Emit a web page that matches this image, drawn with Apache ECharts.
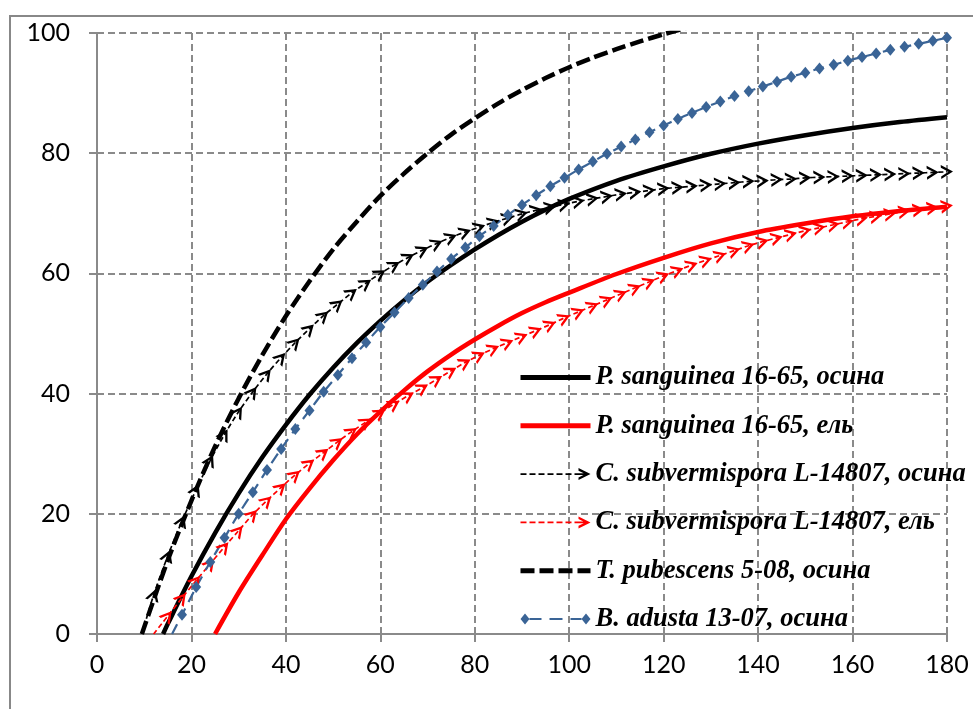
<!DOCTYPE html>
<html>
<head>
<meta charset="utf-8">
<script src="https://cdn.jsdelivr.net/npm/echarts@6.0.0/dist/echarts.min.js"></script>
<style>
  html, body { margin: 0; padding: 0; background: #fff; overflow: hidden; }
  #wrap { position: relative; width: 973px; height: 709px; overflow: hidden; }
  #frame { position: absolute; left: 9px; top: 15px; width: 2000px; height: 2000px;
           border-left: 2px solid #888888; border-top: 2px solid #888888; }
  #chart { position: absolute; left: 0; top: 0; width: 973px; height: 709px; }
</style>
</head>
<body>
<div id="wrap">
  <div id="frame"></div>
  <div id="chart"></div>
</div>
<script>
// x ticks and y ticks of the chart
var xTicks = [0, 20, 40, 60, 80, 100, 120, 140, 160, 180];
var yTicks = [0, 20, 40, 60, 80, 100];

// series names (legend order)
var names = [
  "P. sanguinea 16-65, осина",
  "P. sanguinea 16-65, ель",
  "C. subvermispora L-14807, осина",
  "C. subvermispora L-14807, ель",
  "T. pubescens 5-08, осина",
  "B. adusta 13-07, осина"
];

// values, [x, y]
var sangOsina = [[14, 0], [15, 1.7], [20, 9.6], [25, 16.8], [30, 23.4], [35, 29.4], [40, 34.8], [45, 39.8],
  [50, 44.3], [55, 48.4], [60, 52.1], [65, 55.5], [70, 58.6], [75, 61.4], [80, 64.0], [85, 66.4], [90, 68.6],
  [95, 70.6], [100, 72.4], [110, 75.4], [120, 77.8], [130, 79.9], [140, 81.6], [150, 83.0], [160, 84.2],
  [170, 85.2], [180, 86.0]];

var sangEl = [[25, 0], [30, 6.9], [35, 13.1], [40, 19.1], [45, 24.2], [50, 28.9], [55, 33.2], [60, 37.0],
  [65, 40.5], [70, 43.7], [75, 46.5], [80, 49.0], [85, 51.3], [90, 53.4], [95, 55.2], [100, 56.8], [110, 59.9],
  [120, 62.6], [130, 65.0], [140, 66.9], [150, 68.3], [160, 69.5], [170, 70.4], [180, 71.1]];

var subOsina = [[9.5, 0], [12, 6.5], [15, 13.0], [18, 18.8], [21, 24.0], [24, 28.9], [27, 33.2], [30, 37.0],
  [33, 40.3], [36, 43.3], [39, 46.0], [42, 48.5], [45, 50.8], [48, 53.0], [51, 54.9], [54, 56.8], [57, 58.4],
  [60, 60.0], [63, 61.4], [66, 62.7], [69, 63.9], [72, 65.0], [75, 66.0], [78, 66.9], [81, 67.7], [84, 68.5],
  [87, 69.2], [90, 69.9], [93, 70.5], [96, 71.0], [99, 71.5], [102, 72.0], [105, 72.4], [108, 72.8], [111, 73.2],
  [114, 73.5], [117, 73.8], [120, 74.1], [123, 74.3], [126, 74.5], [129, 74.7], [132, 74.9], [135, 75.1],
  [138, 75.3], [141, 75.4], [144, 75.6], [147, 75.7], [150, 75.9], [153, 76.0], [156, 76.1], [159, 76.2],
  [162, 76.3], [165, 76.4], [168, 76.5], [171, 76.6], [174, 76.7], [177, 76.8], [180, 76.9]];

var subEl = [[12, 0], [15, 3.0], [18, 6.0], [21, 8.9], [24, 11.7], [27, 14.5], [30, 17.2], [33, 19.9],
  [36, 22.2], [39, 24.4], [42, 26.5], [45, 28.4], [48, 30.2], [51, 32.0], [54, 33.7], [57, 35.3], [60, 36.8],
  [63, 38.3], [66, 39.7], [69, 41.0], [72, 42.4], [75, 43.8], [78, 45.2], [81, 46.4], [84, 47.5], [87, 48.5],
  [90, 49.5], [93, 50.5], [96, 51.5], [99, 52.6], [102, 53.6], [105, 54.6], [108, 55.6], [111, 56.6],
  [114, 57.6], [117, 58.6], [120, 59.6], [123, 60.5], [126, 61.4], [129, 62.2], [132, 63.0], [135, 63.8],
  [138, 64.6], [141, 65.3], [144, 65.9], [147, 66.5], [150, 67.1], [153, 67.6], [156, 68.1], [159, 68.6],
  [162, 69.1], [165, 69.5], [168, 69.9], [171, 70.3], [174, 70.6], [177, 70.9], [180, 71.2]];

var pubOsina = [[9.5, 0], [15, 12.3], [20, 22.2], [25, 31.2], [30, 39.2], [35, 46.4], [40, 52.9], [45, 58.7],
  [50, 64.0], [55, 68.6], [60, 72.9], [65, 76.6], [70, 80.0], [75, 83.1], [80, 85.8], [85, 88.3], [90, 90.5],
  [95, 92.5], [100, 94.3], [105, 95.9], [110, 97.3], [115, 98.6], [120, 99.8], [125, 100.9]];

var adustaOsina = [[15.9, 0], [18, 3.2], [21, 7.8], [24, 12.0], [27, 16.0], [30, 20.0], [33, 23.6], [36, 27.3],
  [39, 30.8], [42, 34.1], [45, 37.2], [48, 40.3], [51, 43.1], [54, 45.9], [57, 48.5], [60, 51.1], [63, 53.5],
  [66, 55.9], [69, 58.1], [72, 60.3], [75, 62.4], [78, 64.3], [81, 66.2], [84, 67.9], [87, 69.7], [90, 71.4],
  [93, 73.0], [96, 74.5], [99, 75.9], [102, 77.3], [105, 78.6], [108, 79.9], [111, 81.1], [114, 82.3],
  [117, 83.5], [120, 84.6], [123, 85.7], [126, 86.7], [129, 87.7], [132, 88.6], [135, 89.5], [138, 90.3],
  [141, 91.1], [144, 91.9], [147, 92.7], [150, 93.4], [153, 94.1], [156, 94.7], [159, 95.4], [162, 96.0],
  [165, 96.6], [168, 97.2], [171, 97.7], [174, 98.2], [177, 98.7], [180, 99.2]];

var gridColor = "#8a8a8a";
var blue = "#3a6496";
var arrowPath = "path://M0,0 L12,7 L0,14 L0,11.3 L7.4,7 L0,2.7 Z";

// legend icons: dashed line ending in a chevron, dashed line between two diamonds
var arrowIcon = "path://M0,6.1 L6,6.1 L6,7.9 L0,7.9 Z M9,6.1 L15,6.1 L15,7.9 L9,7.9 Z " +
  "M18,6.1 L24,6.1 L24,7.9 L18,7.9 Z M27,6.1 L33,6.1 L33,7.9 L27,7.9 Z M36,6.1 L42,6.1 L42,7.9 L36,7.9 Z " +
  "M45,6.1 L51,6.1 L51,7.9 L45,7.9 Z M54,6.1 L66,6.1 L66,7.9 L54,7.9 Z " +
  "M58,1 L70,7 L58,13 L58,10.4 L64.8,7 L58,3.6 Z";
var diamondIcon = "path://M0,7 L4.5,1.5 L9,7 L4.5,12.5 Z M61,7 L65.5,1.5 L70,7 L65.5,12.5 Z " +
  "M9,5.9 L21,5.9 L21,8.1 L9,8.1 Z M29,5.9 L42,5.9 L42,8.1 L29,8.1 Z M50,5.9 L61,5.9 L61,8.1 L50,8.1 Z";

var chart = echarts.init(document.getElementById("chart"));

// the point on the x axis where a curve starts gets no marker
function points(pairs) {
  return pairs.map(function (p, i) {
    return i === 0 && p[1] === 0 ? { value: p, symbol: "none" } : { value: p };
  });
}

function axisCommon(ticks) {
  return {
    type: "value",
    min: ticks[0],
    max: ticks[ticks.length - 1],
    interval: ticks[1] - ticks[0],
    axisLine: { show: true, lineStyle: { color: gridColor, width: 2 } },
    axisTick: { show: true, length: 8, lineStyle: { color: gridColor, width: 2 } },
    splitLine: { show: true, lineStyle: { color: gridColor, width: 2, type: [7, 4] } },
    axisLabel: { color: "#000", fontSize: 25, fontFamily: "Lato" }
  };
}

var xAxis = axisCommon(xTicks);
xAxis.axisLabel.margin = 18;
var yAxis = axisCommon(yTicks);
yAxis.axisLabel.margin = 27;

chart.setOption({
  animation: false,
  backgroundColor: "transparent",
  grid: { left: 97, right: 26, top: 33, bottom: 75 },
  xAxis: xAxis,
  yAxis: yAxis,
  legend: {
    orient: "vertical",
    left: 513,
    top: 359,
    itemWidth: 70,
    itemHeight: 14,
    itemGap: 21.3,
    selectedMode: false,
    textStyle: {
      color: "#000",
      fontFamily: "Liberation Serif",
      fontStyle: "italic",
      fontWeight: "bold",
      fontSize: 26.5,
      lineHeight: 26
    },
    data: [
      { name: names[0], itemStyle: { opacity: 0 }, lineStyle: { width: 5 } },
      { name: names[1], itemStyle: { opacity: 0 }, lineStyle: { width: 5 } },
      { name: names[2], icon: arrowIcon, itemStyle: { borderWidth: 0 } },
      { name: names[3], icon: arrowIcon, itemStyle: { borderWidth: 0 } },
      { name: names[4], itemStyle: { opacity: 0 }, lineStyle: { width: 5, type: [14, 5] } },
      { name: names[5], icon: diamondIcon, itemStyle: { borderWidth: 0 } }
    ]
  },
  series: [
    {
      id: "sangOsina", name: names[0], type: "line", smooth: 0.3, symbol: "none",
      lineStyle: { color: "#000", width: 4.5 }, itemStyle: { color: "#000" },
      data: points(sangOsina)
    },
    {
      id: "sangEl", name: names[1], type: "line", smooth: 0.3, symbol: "none",
      lineStyle: { color: "#ff0000", width: 4.5 }, itemStyle: { color: "#ff0000" },
      data: points(sangEl)
    },
    {
      id: "subOsina", name: names[2], type: "line", smooth: 0.3,
      symbol: arrowPath, symbolSize: [12, 14], showAllSymbol: true,
      lineStyle: { color: "#000", width: 1.7, type: [5, 3] },
      itemStyle: { color: "#000", borderWidth: 0 },
      data: points(subOsina)
    },
    {
      id: "subEl", name: names[3], type: "line", smooth: 0.3,
      symbol: arrowPath, symbolSize: [12, 14], showAllSymbol: true,
      lineStyle: { color: "#ff0000", width: 1.7, type: [5, 3] },
      itemStyle: { color: "#ff0000", borderWidth: 0 },
      data: points(subEl)
    },
    {
      id: "pubOsina", name: names[4], type: "line", smooth: 0.3, symbol: "none",
      lineStyle: { color: "#000", width: 4.5, type: [14, 5] }, itemStyle: { color: "#000" },
      data: points(pubOsina)
    },
    {
      id: "adustaOsina", name: names[5], type: "line", smooth: 0.3,
      symbol: "diamond", symbolSize: [10, 12], showAllSymbol: true,
      lineStyle: { color: blue, width: 2.2, type: [11, 7] },
      itemStyle: { color: blue, borderWidth: 0 },
      data: points(adustaOsina)
    }
  ]
});

// turn every chevron along its curve
function withRotation(pairs) {
  return points(pairs).map(function (item, i) {
    var a = pairs[Math.max(i - 1, 0)];
    var b = pairs[Math.min(i + 1, pairs.length - 1)];
    var pa = chart.convertToPixel({ gridIndex: 0 }, a);
    var pb = chart.convertToPixel({ gridIndex: 0 }, b);
    item.symbolRotate = Math.atan2(pa[1] - pb[1], pb[0] - pa[0]) * 180 / Math.PI;
    return item;
  });
}

chart.setOption({
  series: [
    { id: "subOsina", data: withRotation(subOsina) },
    { id: "subEl", data: withRotation(subEl) }
  ]
});
</script>
</body>
</html>
